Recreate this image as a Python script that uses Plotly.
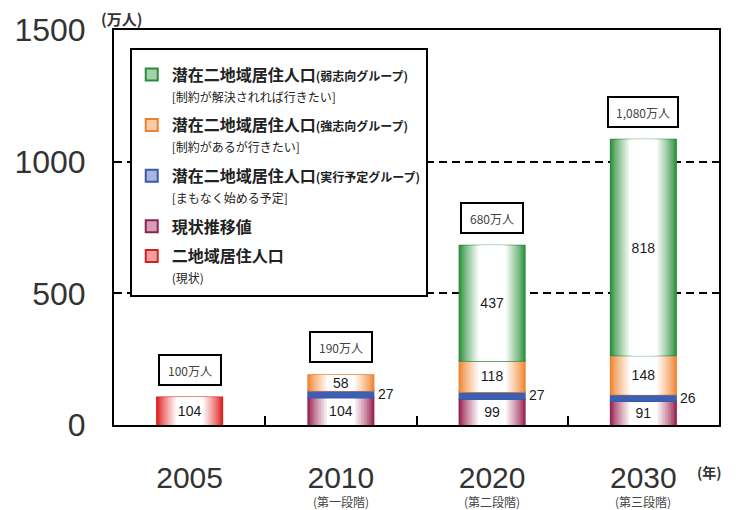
import numpy as np
import plotly.graph_objects as go

# ---------------- data ----------------
categories = ["2005", "2010", "2020", "2030"]
stage_labels = ["", "(第一段階)", "(第二段階)", "(第三段階)"]
current = [104, None, None, None]      # 二地域居住人口(現状)
trend = [None, 104, 99, 91]            # 現状推移値
planned = [None, 27, 27, 26]           # 潜在(実行予定グループ)
strong = [None, 58, 118, 148]          # 潜在(強志向グループ)
weak = [None, None, 437, 818]          # 潜在(弱志向グループ)
total_labels = ["100万人", "190万人", "680万人", "1,080万人"]
y_ticks = [0, 500, 1000, 1500]

# ---------------- styles ----------------
JP = "Noto Sans CJK JP"
NUM = "Liberation Sans"
BAR_W = 0.43

series = [
    dict(key="current", vals=current, edge=(226, 40, 40), line="#d42020",
         name="<b>二地域居住人口</b><br><span style='font-size:12px'>(現状)</span>",
         grad=True, label="inside"),
    dict(key="trend", vals=trend, edge=(160, 45, 90), line="#8e2450",
         name="<b>現状推移値</b>", grad=True, label="inside"),
    dict(key="planned", vals=planned, edge=(60, 95, 180), line="#3a5aa8",
         name="<b>潜在二地域居住人口</b><span style='font-size:12px'><b>(実行予定グループ)</b></span>"
              "<br><span style='font-size:12px'>[まもなく始める予定]</span>",
         grad=False, label="right"),
    dict(key="strong", vals=strong, edge=(242, 140, 60), line="#ee8030",
         name="<b>潜在二地域居住人口</b><span style='font-size:12px'><b>(強志向グループ)</b></span>"
              "<br><span style='font-size:12px'>[制約があるが行きたい]</span>",
         grad=True, label="inside"),
    dict(key="weak", vals=weak, edge=(55, 150, 70), line="#2e8a3e",
         name="<b>潜在二地域居住人口</b><span style='font-size:12px'><b>(弱志向グループ)</b></span>"
              "<br><span style='font-size:12px'>[制約が解決されれば行きたい]</span>",
         grad=True, label="inside"),
]

# horizontal gradient profile (style only): (width fraction, mix toward white)
N_STEPS = 16
profile = [(1.0 - k * 0.72 / (N_STEPS - 1), min(1.0, (k / 12) ** 0.85)) for k in range(N_STEPS)]


def mix(rgb, t):
    r, g, b = [int(round(c + (255 - c) * t)) for c in rgb]
    return f"rgb({r},{g},{b})"


fig = go.Figure()
xpos = list(range(len(categories)))

running = np.zeros(len(categories))
for i, s in enumerate(series):
    v = np.array([np.nan if x is None else x for x in s["vals"]], dtype=float)
    s["base"] = running.copy()
    running = running + np.nan_to_num(v)
    # legend / border trace
    fig.add_bar(x=categories, y=s["vals"], base=s["base"], width=BAR_W,
                name=s["name"], legendgroup=s["key"], showlegend=True,
                legendrank=100 - i,
                marker=dict(color=mix(s["edge"], 0.55), line=dict(color=s["line"], width=2)),
                hoverinfo="skip")
    layers = profile if s["grad"] else [(1.0, 0.0)]
    for f, t in layers:
        fig.add_bar(x=categories, y=s["vals"], base=s["base"], width=BAR_W * f,
                    legendgroup=s["key"], showlegend=False,
                    marker=dict(color=mix(s["edge"], t), line=dict(width=0)),
                    hoverinfo="skip")

totals = running

# value labels
for s in series:
    if s["label"] == "inside":
        fig.add_bar(x=categories, y=s["vals"], base=s["base"], width=BAR_W,
                    legendgroup=s["key"], showlegend=False,
                    marker=dict(color="rgba(0,0,0,0)", line=dict(width=0)),
                    text=[("" if x is None else str(x)) for x in s["vals"]],
                    textposition="inside", insidetextanchor="middle", textangle=0,
                    textfont=dict(family=NUM, size=14, color="#1a1a1a"),
                    hoverinfo="skip")
    else:
        for xi, val, b in zip(xpos, s["vals"], s["base"]):
            if val is None:
                continue
            fig.add_annotation(x=xi, y=float(b + val / 2), text=str(val), showarrow=False,
                               xshift=45, xanchor="center", yanchor="middle",
                               font=dict(family=NUM, size=14, color="#1a1a1a"))

# total boxes
for xi, tot, lab in zip(xpos, totals, total_labels):
    fig.add_annotation(x=xi, y=float(tot), text=lab, showarrow=False,
                       xanchor="center", yanchor="bottom",
                       yshift=12, bgcolor="white", bordercolor="black", borderwidth=2,
                       borderpad=3, width=54 if len(lab) <= 5 else 62, height=22,
                       font=dict(family=JP, size=12, color="#444"))

# stage sub-labels
for xi, lab in zip(xpos, stage_labels):
    if lab:
        fig.add_annotation(x=xi, y=0, text=lab, showarrow=False,
                           xanchor="center", yanchor="middle",
                           yshift=-76, font=dict(family=JP, size=12, color="#444"))

fig.add_annotation(xref="paper", yref="paper", x=0.985, y=-0.12, text="<b>(年)</b>",
                   xanchor="center", yanchor="middle",
                   showarrow=False, font=dict(family=JP, size=14, color="#333"))
fig.add_annotation(xref="paper", yref="paper", x=0.012, y=1.028, text="<b>(万人)</b>",
                   xanchor="center", yanchor="middle",
                   showarrow=False, font=dict(family=JP, size=15, color="#333"))

fig.update_layout(
    width=745, height=510,
    margin=dict(l=114, r=26, t=30, b=85),
    paper_bgcolor="white", plot_bgcolor="white",
    barmode="overlay",
    uniformtext=dict(minsize=14, mode="show"),
    showlegend=True,
    legend=dict(x=0.026, y=0.955, xanchor="left", yanchor="top",
                bgcolor="white", bordercolor="black", borderwidth=2,
                traceorder="grouped", tracegroupgap=6, valign="top",
                title=dict(text="&nbsp;", font=dict(family=JP, size=6)),
                font=dict(family=JP, size=16, color="#222")),
    xaxis=dict(type="category", range=[-0.5, 3.5], showgrid=False,
               showline=True, linecolor="black", linewidth=2, mirror=True,
               ticks="inside", tickson="boundaries", ticklen=9, tickwidth=2,
               tickcolor="black", ticklabelstandoff=25,
               tickfont=dict(family=NUM, size=30, color="#333")),
    yaxis=dict(range=[0, 1500], tickvals=y_ticks, showgrid=True,
               gridcolor="black", gridwidth=1.5, griddash="8px,5px",
               showline=True, linecolor="black", linewidth=2, mirror=True,
               ticks="", zeroline=False, ticklabelstandoff=20,
               tickfont=dict(family=NUM, size=32, color="#333")),
)

fig.write_html("out.html")
